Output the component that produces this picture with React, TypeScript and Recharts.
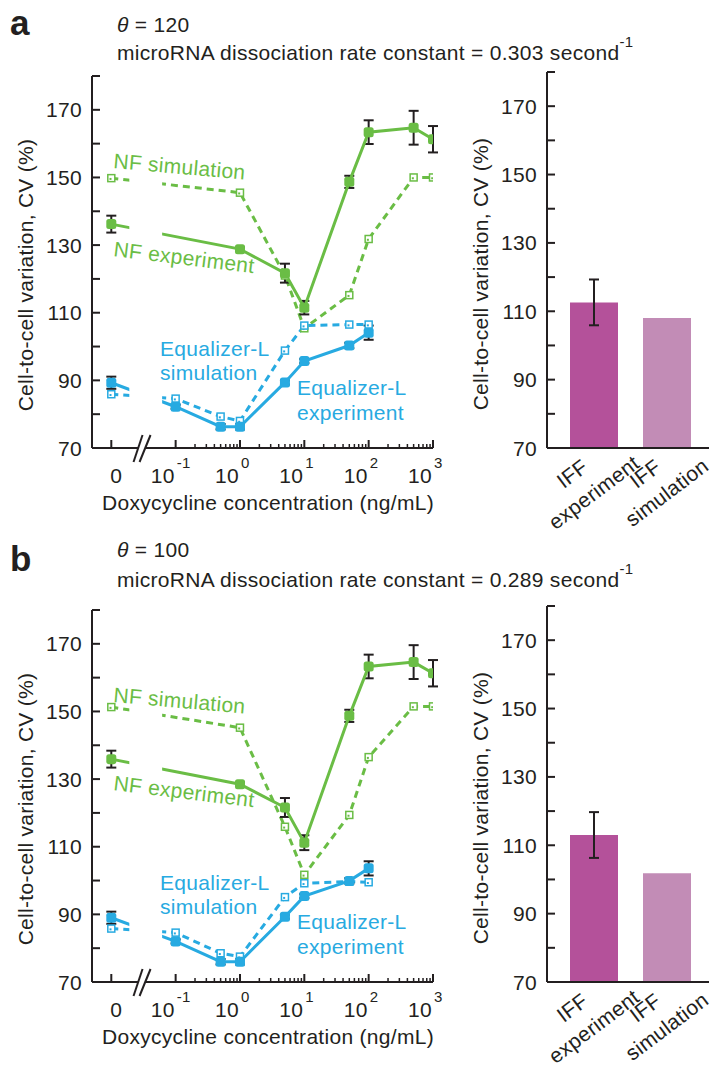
import React from 'react';
import { LineChart, Line, XAxis, YAxis, ErrorBar, ReferenceArea, BarChart, Bar, Cell } from 'recharts';

const GREEN = '#6abd45';
const BLUE = '#27aae1';
const INK = '#231f20';
const IFF_EXP = '#b4519a';
const IFF_SIM = '#c28cb6';
const FONT = '"Liberation Sans", Arial, Helvetica, sans-serif';
const TXT = { fontFamily: FONT, fontSize: 21, letterSpacing: 0.3 };

// doxycycline doses (ng/mL); dose 0 sits left of the axis break
const nfDoses = [0, 1, 5, 10, 50, 100, 500, 1000];
const eqDoses = [0, 0.1, 0.5, 1, 5, 10, 50, 100];

// panel a, theta = 120
const nfExpA = [136.2, 128.8, 121.7, 111.5, 148.7, 163.4, 164.7, 161.3];
const nfExpErrA = [2.5, 0.5, 2.8, 2.0, 1.8, 3.5, 5.0, 3.9];
const nfSimA = [149.8, 145.5, 121.0, 105.4, 115.2, 131.8, 150.0, 150.0];
const eqExpA = [89.3, 82.2, 76.3, 76.3, 89.4, 95.7, 100.3, 104.1];
const eqExpErrA = [1.8, 0.6, 0.8, 0.8, 0.6, 0.6, 0.8, 2.1];
const eqSimA = [85.9, 84.6, 79.3, 78.0, 98.8, 106.2, 106.5, 106.5];
const iffA = [112.6, 108.0];
const iffErrA = [6.7, null];

// panel b, theta = 100
const nfExpB = [135.9, 128.5, 121.6, 111.2, 148.7, 163.3, 164.6, 161.3];
const nfExpErrB = [2.5, 0.5, 2.8, 2.2, 1.8, 3.5, 5.0, 3.9];
const nfSimB = [151.3, 145.2, 115.9, 101.7, 119.4, 136.5, 151.5, 151.5];
const eqExpB = [89.0, 82.0, 76.0, 76.0, 89.3, 95.4, 99.9, 103.6];
const eqExpErrB = [1.8, 0.6, 0.8, 0.8, 0.6, 0.6, 0.8, 2.1];
const eqSimB = [85.8, 84.6, 78.5, 77.5, 95.1, 99.2, 99.7, 99.5];
const iffB = [113.0, 101.8];
const iffErrB = [6.7, null];

const iffLabels = [['IFF', 'experiment'], ['IFF', 'simulation']];
const iffColors = [IFF_EXP, IFF_SIM];

const cvTicks = [70, 80, 90, 100, 110, 120, 130, 140, 150, 160, 170, 180];
const cvLabels = [70, 90, 110, 130, 150, 170];
const decadeTicks = [-2, -1, 0, 1, 2, 3];
const decadeExp = [null, '-1', '0', '1', '2', '3'];

const ZERO_POS = -2;
const BREAK_POS = -1.53;
const GAP = [-1.72, -1.21];

const minorTicks: number[] = [];
for (let d = -1; d < 3; d++) for (let k = 2; k < 10; k++) minorTicks.push(d + Math.log10(k));
const doseTicks = [...decadeTicks, BREAK_POS, ...minorTicks].sort((a, b) => a - b);

const toPoints = (doses: number[], vals: number[], errs?: number[]) =>
  doses.map((d, i) => ({ x: d === 0 ? ZERO_POS : Math.log10(d), v: vals[i], e: errs ? errs[i] : null }));

function CvTick({ x, y, payload }: any) {
  const v = payload.value;
  return (
    <g>
      <line x1={x} x2={x + 8} y1={y} y2={y} stroke={INK} strokeWidth={2} />
      {cvLabels.includes(v) && (
        <text x={x - 10} y={y} dy="0.36em" textAnchor="end" fill={INK} style={TXT}>{v}</text>
      )}
    </g>
  );
}

function DoseTick({ x, y, payload }: any) {
  const v = payload.value;
  if (Math.abs(v - BREAK_POS) < 1e-6) {
    return (
      <g>
        <polygon points={`${x - 8},${y + 14} ${x + 1},${y - 13} ${x + 9},${y - 13} ${x - 2},${y + 14}`} fill="#fff" />
        <line x1={x - 8} y1={y + 14} x2={x + 1} y2={y - 13} stroke={INK} strokeWidth={2} />
        <line x1={x - 2} y1={y + 14} x2={x + 9} y2={y - 13} stroke={INK} strokeWidth={2} />
      </g>
    );
  }
  const i = decadeTicks.indexOf(v);
  if (i < 0) return <line x1={x} x2={x} y1={y} y2={y - 4} stroke={INK} strokeWidth={1.5} />;
  const exp = decadeExp[i];
  return (
    <g>
      <line x1={x} x2={x} y1={y} y2={y - 8} stroke={INK} strokeWidth={2} />
      {exp === null ? (
        <text x={x + 5} y={y + 35} textAnchor="middle" fill={INK} style={TXT}>0</text>
      ) : (
        <g>
          <text x={x - 1} y={y + 35} textAnchor="end" fill={INK} style={TXT}>10</text>
          <text x={x + 1} y={y + 20} textAnchor="start" fill={INK} style={{ ...TXT, fontSize: 15 }}>{exp}</text>
        </g>
      )}
    </g>
  );
}

// rotated two-line category labels under the bars
const ANGLE = -37;
const iffLabelCenters = [[583, 483], [656, 483]];
function IffLabel({ lines, cx, cy }: any) {
  const a = (ANGLE * Math.PI) / 180;
  const at = (u: number, v: number) => [cx + u * Math.cos(a) - v * Math.sin(a), cy + u * Math.sin(a) + v * Math.cos(a)];
  const [x1, y1] = at(-3, -14);
  const [x2, y2] = at(3, 14);
  return (
    <g>
      <text x={x1} y={y1} dy="0.35em" textAnchor="middle" transform={`rotate(${ANGLE} ${x1} ${y1})`} fill={INK} style={TXT}>{lines[0]}</text>
      <text x={x2} y={y2} dy="0.35em" textAnchor="middle" transform={`rotate(${ANGLE} ${x2} ${y2})`} fill={INK} style={TXT}>{lines[1]}</text>
    </g>
  );
}

const expDot = (color: string) => (p: any) => (
  <rect key={`e-${p.index}`} x={p.cx - 5} y={p.cy - 5} width={10} height={10} rx={2.5} fill={color} />
);
const simDot = (color: string) => (p: any) => (
  <g key={`s-${p.index}`}>
    <rect x={p.cx - 3.5} y={p.cy - 3.5} width={7} height={7} fill="#fff" stroke={color} strokeWidth={1.5} />
    <rect x={p.cx - 1.8} y={p.cy - 0.2} width={2} height={2} fill={color} />
  </g>
);

function Panel(props: any) {
  const { top, letter, letterY, theta, thetaY, rate, rateY, nfExp, nfExpErr, nfSim, eqExp, eqExpErr, eqSim, iff, iffErr } = props;
  const barData = iff.map((v: number, i: number) => ({ name: i, v, e: iffErr[i] }));
  return (
    <div style={{ position: 'absolute', left: 0, top, width: 715, height: 540 }}>
      <div style={{ position: 'absolute', left: 0, top: 0 }}>
        <LineChart width={450} height={540} margin={{ top: 76, right: 17, bottom: 62, left: 32 }}>
          <XAxis type="number" dataKey="x" domain={[-2.3, 3]} ticks={doseTicks} interval={0} allowDataOverflow
            height={30} tickSize={0} tickMargin={0} tickLine={false} axisLine={{ stroke: INK, strokeWidth: 2 }} tick={<DoseTick />} />
          <YAxis type="number" domain={[70, 180]} ticks={cvTicks} interval={0} allowDataOverflow
            width={60} tickSize={0} tickMargin={0} tickLine={false} axisLine={{ stroke: INK, strokeWidth: 2 }} tick={<CvTick />} />
          <Line data={toPoints(nfDoses, nfSim)} dataKey="v" stroke={GREEN} strokeWidth={3} strokeDasharray="7 5"
            dot={simDot(GREEN)} activeDot={false} isAnimationActive={false} />
          <Line data={toPoints(eqDoses, eqSim)} dataKey="v" stroke={BLUE} strokeWidth={3} strokeDasharray="7 5"
            dot={simDot(BLUE)} activeDot={false} isAnimationActive={false} />
          <Line data={toPoints(nfDoses, nfExp, nfExpErr)} dataKey="v" stroke={GREEN} strokeWidth={3}
            dot={expDot(GREEN)} activeDot={false} isAnimationActive={false}>
            <ErrorBar dataKey="e" direction="y" width={5} stroke={INK} strokeWidth={2} />
          </Line>
          <Line data={toPoints(eqDoses, eqExp, eqExpErr)} dataKey="v" stroke={BLUE} strokeWidth={3}
            dot={expDot(BLUE)} activeDot={false} isAnimationActive={false}>
            <ErrorBar dataKey="e" direction="y" width={5} stroke={INK} strokeWidth={2} />
          </Line>
          <ReferenceArea x1={GAP[0]} x2={GAP[1]} y1={76} y2={179} fill="#fff" fillOpacity={1} stroke="none" zIndex={450} />
        </LineChart>
      </div>
      <div style={{ position: 'absolute', left: 440, top: 0 }}>
        <BarChart width={275} height={540} data={barData} margin={{ top: 72, right: 6, bottom: 32, left: 47 }}>
          <XAxis dataKey="name" type="category" padding={{ left: 10, right: 6 }} height={60}
            tickLine={false} tick={false} axisLine={{ stroke: INK, strokeWidth: 2 }} />
          <YAxis type="number" domain={[70, 180]} ticks={cvTicks} interval={0} allowDataOverflow
            width={60} tickSize={0} tickMargin={0} tickLine={false} axisLine={{ stroke: INK, strokeWidth: 2 }} tick={<CvTick />} />
          <Bar dataKey="v" barSize={48} isAnimationActive={false}>
            {barData.map((_: any, i: number) => <Cell key={i} fill={iffColors[i]} />)}
            <ErrorBar dataKey="e" direction="y" width={5} stroke={INK} strokeWidth={2} />
          </Bar>
        </BarChart>
      </div>
      <svg width={715} height={540} style={{ position: 'absolute', left: 0, top: 0, pointerEvents: 'none' }}>
        <text x={10} y={letterY} fill={INK} style={{ fontFamily: FONT, fontSize: 35, fontWeight: 700 }}>{letter}</text>
        <text x={117} y={thetaY} fill={INK} style={TXT}>
          <tspan fontStyle="italic">θ</tspan> = {theta}
        </text>
        <text x={117} y={rateY} fill={INK} style={TXT}>
          microRNA dissociation rate constant = {rate} second<tspan dy={-13} fontSize={15}>-1</tspan>
        </text>
        <text transform="translate(33,275) rotate(-90)" textAnchor="middle" fill={INK} style={TXT}>Cell-to-cell variation, CV (%)</text>
        <text transform="translate(488,274) rotate(-90)" textAnchor="middle" fill={INK} style={TXT}>Cell-to-cell variation, CV (%)</text>
        <text x={268} y={510} textAnchor="middle" fill={INK} style={TXT}>Doxycycline concentration (ng/mL)</text>
        <text transform="translate(113,168) rotate(5)" fill={GREEN} style={TXT}>NF simulation</text>
        <text transform="translate(113,256) rotate(7)" fill={GREEN} style={TXT}>NF experiment</text>
        <text x={160} y={356} fill={BLUE} style={TXT}>Equalizer-L</text>
        <text x={160} y={380} fill={BLUE} style={TXT}>simulation</text>
        <text x={297} y={395} fill={BLUE} style={TXT}>Equalizer-L</text>
        <text x={297} y={420} fill={BLUE} style={TXT}>experiment</text>
        {iffLabels.map((lines, i) => (
          <IffLabel key={i} lines={lines} cx={iffLabelCenters[i][0]} cy={iffLabelCenters[i][1]} />
        ))}
      </svg>
    </div>
  );
}

export default function App() {
  return (
    <div style={{ position: 'absolute', left: 0, top: 0, width: 715, height: 1065, background: '#fff', overflow: 'hidden' }}>
      <Panel top={0} letter="a" letterY={35} theta={120} thetaY={32} rate="0.303" rateY={60}
        nfExp={nfExpA} nfExpErr={nfExpErrA} nfSim={nfSimA} eqExp={eqExpA} eqExpErr={eqExpErrA} eqSim={eqSimA}
        iff={iffA} iffErr={iffErrA} />
      <Panel top={534} letter="b" letterY={37} theta={100} thetaY={23} rate="0.289" rateY={53}
        nfExp={nfExpB} nfExpErr={nfExpErrB} nfSim={nfSimB} eqExp={eqExpB} eqExpErr={eqExpErrB} eqSim={eqSimB}
        iff={iffB} iffErr={iffErrB} />
    </div>
  );
}
